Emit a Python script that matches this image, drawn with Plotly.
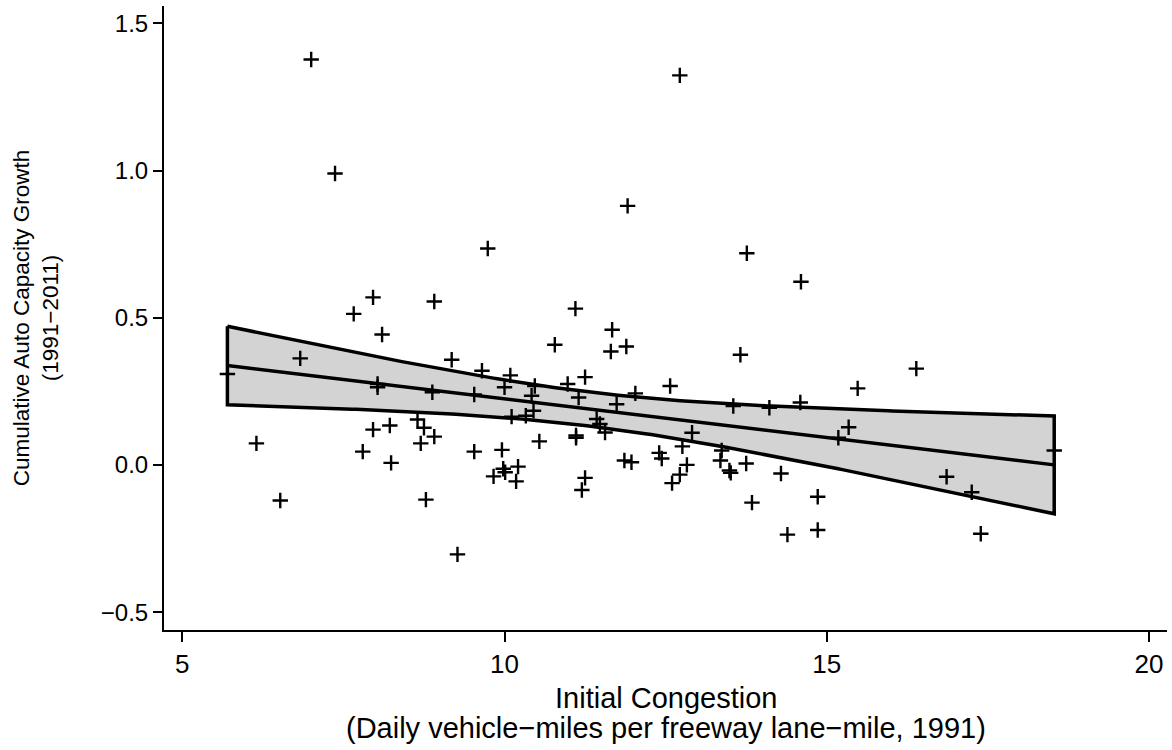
import numpy as np
import plotly.graph_objects as go

# Initial congestion (daily VMT per freeway lane-mile, 1991)
congestion = [
    5.70, 6.15, 6.52, 6.83, 7.00, 7.37, 7.66, 7.80, 7.96, 7.96,
    8.03, 8.03, 8.10, 8.22, 8.24, 8.88, 8.91, 9.18, 9.65, 9.53,
    8.65, 8.75, 8.91, 8.70, 8.78, 9.27, 9.53, 9.83, 9.96, 9.98,
    10.01, 10.21, 10.18, 10.54, 11.11, 11.11, 11.25, 11.20, 11.56, 11.48,
    11.86, 11.97, 12.40, 12.44, 12.91, 12.76, 12.83, 12.72, 12.60, 13.37,
    13.35, 13.49, 13.51, 13.75, 13.84, 14.29, 14.39, 14.86, 14.86, 16.86,
    17.25, 17.39, 18.53, 15.34, 15.18, 15.48, 16.39, 13.76, 14.60, 11.10,
    11.67, 10.78, 11.65, 11.89, 13.66, 10.09, 10.00, 10.47, 10.98, 11.25,
    10.42, 11.15, 11.74, 12.03, 12.57, 10.45, 10.11, 10.33, 11.43, 13.55,
    14.11, 14.59, 12.72, 11.91, 9.74,
]
# Cumulative auto capacity growth (1991-2011)
growth = [
    0.309, 0.073, -0.121, 0.362, 1.377, 0.990, 0.513, 0.045, 0.569, 0.120,
    0.275, 0.264, 0.443, 0.134, 0.007, 0.247, 0.555, 0.357, 0.320, 0.239,
    0.154, 0.126, 0.096, 0.073, -0.118, -0.304, 0.045, -0.039, 0.051, -0.013,
    -0.025, -0.006, -0.056, 0.080, 0.100, 0.092, -0.044, -0.085, 0.110, 0.139,
    0.015, 0.009, 0.041, 0.022, 0.109, 0.063, 0.000, -0.033, -0.062, 0.049,
    0.015, -0.019, -0.027, 0.005, -0.128, -0.029, -0.237, -0.108, -0.221, -0.040,
    -0.093, -0.234, 0.049, 0.128, 0.092, 0.260, 0.327, 0.719, 0.622, 0.531,
    0.459, 0.408, 0.385, 0.402, 0.374, 0.304, 0.264, 0.268, 0.275, 0.298,
    0.235, 0.229, 0.206, 0.243, 0.268, 0.184, 0.164, 0.167, 0.156, 0.200,
    0.194, 0.212, 1.323, 0.880, 0.735,
]

x_ticks = [5, 10, 15, 20]
y_ticks = [-0.5, 0.0, 0.5, 1.0, 1.5]
x_title_lines = ["Initial Congestion",
                 "(Daily vehicle\u2212miles per freeway lane\u2212mile, 1991)"]
y_title = "Cumulative Auto Capacity Growth<br>(1991\u22122011)"

# Linear fit with 95% confidence interval (as in Stata lfitci)
x = np.array(congestion)
y = np.array(growth)
n = len(x)
b, a = np.polyfit(x, y, 1)
resid = y - (a + b * x)
s = np.sqrt(np.sum(resid ** 2) / (n - 2))
sxx = np.sum((x - x.mean()) ** 2)
t = 1.9853
xs = np.linspace(x.min(), x.max(), 200)
fit = a + b * xs
se = s * np.sqrt(1.0 / n + (xs - x.mean()) ** 2 / sxx)
hi = fit + t * se
lo = fit - t * se

band_x = list(xs) + list(xs[::-1]) + [xs[0]]
band_y = list(hi) + list(lo[::-1]) + [hi[0]]

fig = go.Figure()
fig.add_trace(go.Scatter(
    x=band_x, y=band_y, mode="lines", fill="toself",
    fillcolor="#d3d3d3", line=dict(color="black", width=3.5),
    hoverinfo="skip", showlegend=False,
))
fig.add_trace(go.Scatter(
    x=xs, y=fit, mode="lines", line=dict(color="black", width=3.5),
    hoverinfo="skip", showlegend=False,
))
fig.add_trace(go.Scatter(
    x=congestion, y=growth, mode="markers",
    marker=dict(symbol="cross-thin", size=11, color="black",
                line=dict(color="black", width=2.4)),
    showlegend=False,
))

font_family = "Liberation Sans, Arial, sans-serif"
fig.update_layout(
    width=1172, height=750,
    margin=dict(l=164, r=5, t=6, b=120),
    paper_bgcolor="white", plot_bgcolor="white",
    font=dict(family=font_family, color="black", size=24),
)
fig.update_xaxes(
    range=[4.716, 20.28], tickvals=x_ticks, ticktext=[str(v) for v in x_ticks],
    showline=True, linecolor="black", linewidth=2, mirror=False,
    ticks="outside", ticklen=10, tickwidth=1.5, tickcolor="black",
    showgrid=False, zeroline=False,
    tickfont=dict(size=26),
)
fig.update_yaxes(
    range=[-0.5608, 1.5588], tickvals=y_ticks,
    ticktext=[("\u2212" if v < 0 else "") + f"{abs(v):.1f}" for v in y_ticks],
    showline=True, linecolor="black", linewidth=2, mirror=False,
    ticks="outside", ticklen=9, tickwidth=1.5, tickcolor="black",
    showgrid=False, zeroline=False,
    tickfont=dict(size=24),
    title=dict(text=y_title, font=dict(size=22.5), standoff=36),
)

# two-line x-axis title
for text, yp in zip(x_title_lines, [-0.109, -0.157]):
    fig.add_annotation(
        text=text, xref="paper", yref="paper", x=0.5, y=yp,
        xanchor="center", yanchor="middle", showarrow=False,
        font=dict(size=29, family=font_family, color="black"),
    )

fig.write_html("out.html")
